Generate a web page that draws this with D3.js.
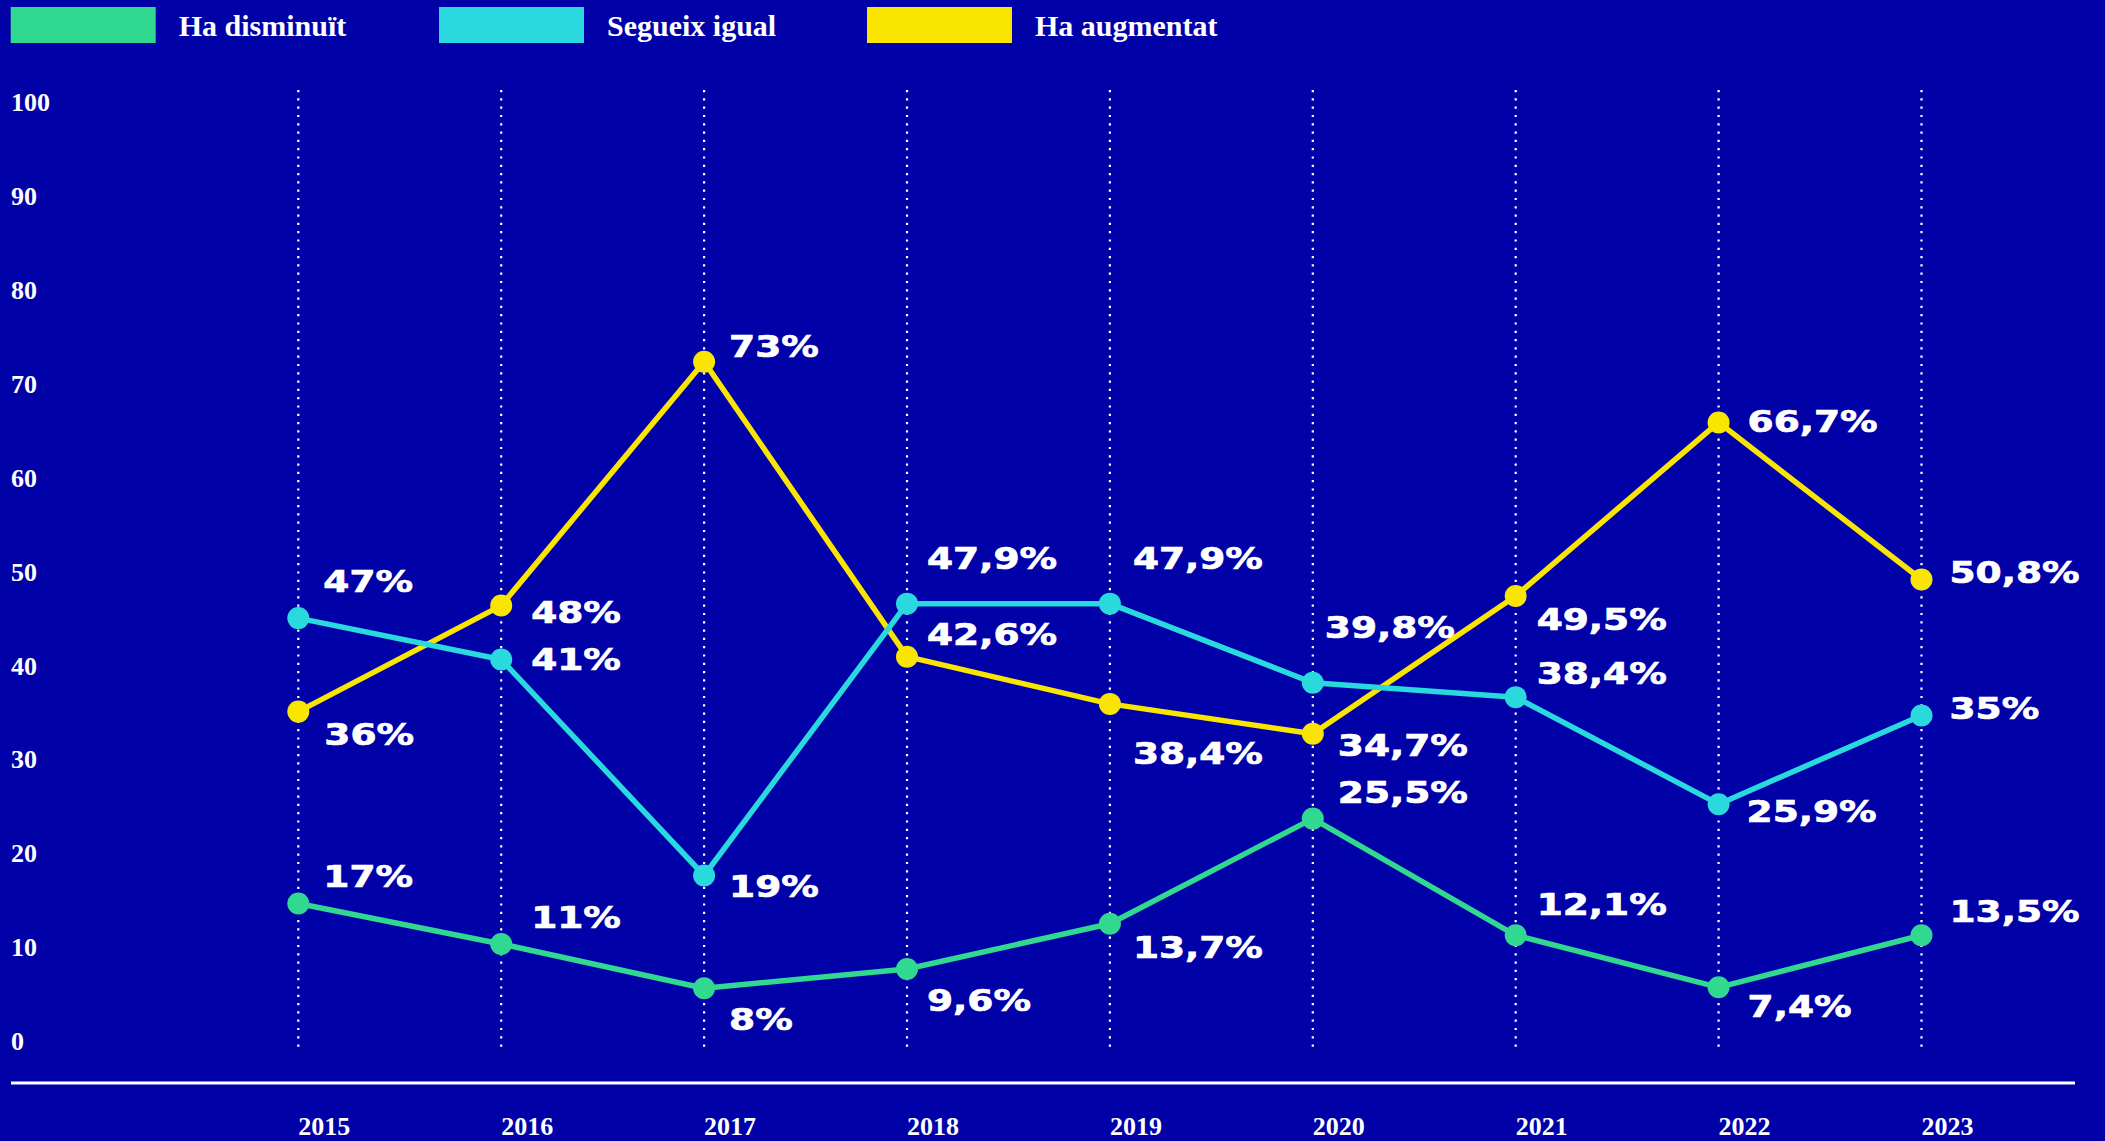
<!DOCTYPE html>
<html>
<head>
<meta charset="utf-8">
<script src="https://cdn.jsdelivr.net/npm/d3@7"></script>
<style>
  html, body { margin: 0; padding: 0; background: #0101A8; }
  svg { display: block; }
</style>
</head>
<body>
<script>
// ---- data ----
const years = ["2015","2016","2017","2018","2019","2020","2021","2022","2023"];
const seriesNames = ["Ha disminuït", "Segueix igual", "Ha augmentat"];
// plotted values (as positioned in the chart)
const disminuit = [16.8, 12.6, 8.0, 10.0, 14.7, 25.6, 13.5, 8.1, 13.5];
const igual     = [46.4, 42.1, 19.7, 47.9, 47.9, 39.7, 38.2, 27.1, 36.3];
const augmentat = [36.7, 47.7, 73.0, 42.4, 37.5, 34.4, 48.7, 66.7, 50.4];
// printed labels
const disminuitLabels = ["17%","11%","8%","9,6%","13,7%","25,5%","12,1%","7,4%","13,5%"];
const igualLabels     = ["47%","41%","19%","47,9%","47,9%","39,8%","38,4%","25,9%","35%"];
const augmentatLabels = ["36%","48%","73%","42,6%","38,4%","34,7%","49,5%","66,7%","50,8%"];
const yTicks = [0,10,20,30,40,50,60,70,80,90,100];

// ---- layout / style ----
const W = 2105, H = 1141;
const colors = ["#31D88F", "#29D9DE", "#F9E500"];
const bg = "#0101A8";
// label offsets (dx, dy) relative to each point, per series
const labelOffsets = [
  [[25,-16],[30,-16],[25,42],[20,42],[23,34],[25,-16],[21,-20],[29,30],[28,-13]],
  [[25,-26],[30,10],[25,22],[20,-35],[23,-35],[12,-45],[21,-13],[28,18],[28,4]],
  [[26,33],[30,17],[25,-5],[20,-12],[23,60],[25,22],[21,34],[29,10],[28,3]]
];

const svg = d3.select("body").append("svg").attr("width", W).attr("height", H);
svg.append("rect").attr("width", W).attr("height", H).attr("fill", bg);

const x = d3.scalePoint().domain(years).range([298.3, 1921.5]);
const y = d3.scaleLinear().domain([0, 100]).range([1065.4, 101.4]);
const yLabel = d3.scaleLinear().domain([0, 100]).range([1041, 102]);

// legend
const legendX = [10.7, 439, 867];
const legend = svg.append("g");
seriesNames.forEach((n, i) => {
  legend.append("rect").attr("x", legendX[i]).attr("y", 7).attr("width", 145).attr("height", 36).attr("fill", colors[i]);
  legend.append("text").attr("x", legendX[i] + 168).attr("y", 36)
    .attr("fill", "#fff").attr("font-family", "Liberation Serif, serif").attr("font-weight", "bold")
    .attr("font-size", 30).text(n);
});

// y tick labels
svg.append("g").selectAll("text").data(yTicks).join("text")
  .attr("x", 11).attr("y", d => yLabel(d)).attr("dy", "0.35em")
  .attr("fill", "#fff").attr("font-family", "Liberation Serif, serif").attr("font-weight", "bold")
  .attr("font-size", 26).text(d => d);

// dotted vertical lines
svg.append("g").selectAll("line").data(years).join("line")
  .attr("x1", d => x(d)).attr("x2", d => x(d)).attr("y1", 90).attr("y2", 1048)
  .attr("stroke", "#fff").attr("stroke-width", 2.2).attr("stroke-dasharray", "2.2,6.1");

// baseline
svg.append("line").attr("x1", 11).attr("x2", 2075).attr("y1", 1083).attr("y2", 1083)
  .attr("stroke", "#fff").attr("stroke-width", 3);

// x labels
svg.append("g").selectAll("text").data(years).join("text")
  .attr("x", d => x(d)).attr("y", 1135)
  .attr("fill", "#fff").attr("font-family", "Liberation Serif, serif").attr("font-weight", "bold")
  .attr("font-size", 26).text(d => d);

// series
const series = [
  { values: disminuit, labels: disminuitLabels },
  { values: igual, labels: igualLabels },
  { values: augmentat, labels: augmentatLabels }
];
const line = d3.line().x((d, i) => x(years[i])).y(d => y(d));
const order = [0, 2, 1];
order.forEach(si => {
  const s = series[si];
  const g = svg.append("g");
  g.append("path").attr("d", line(s.values)).attr("fill", "none")
    .attr("stroke", colors[si]).attr("stroke-width", 5.5).attr("stroke-linejoin", "round");
  g.selectAll("circle").data(s.values).join("circle")
    .attr("cx", (d, i) => x(years[i])).attr("cy", d => y(d)).attr("r", 11)
    .attr("fill", colors[si]);
});
// labels
series.forEach((s, si) => {
  svg.append("g").selectAll("text").data(s.values).join("text")
    .attr("transform", (d, i) => `translate(${x(years[i]) + labelOffsets[si][i][0]},${y(d) + labelOffsets[si][i][1]}) scale(1.25,1)`)
    .attr("fill", "#fff").attr("stroke", "#fff").attr("stroke-width", 0.7)
    .attr("font-family", "DejaVu Sans, sans-serif").attr("font-weight", "bold")
    .attr("font-size", 30).text((d, i) => s.labels[i]);
});
</script>
</body>
</html>
